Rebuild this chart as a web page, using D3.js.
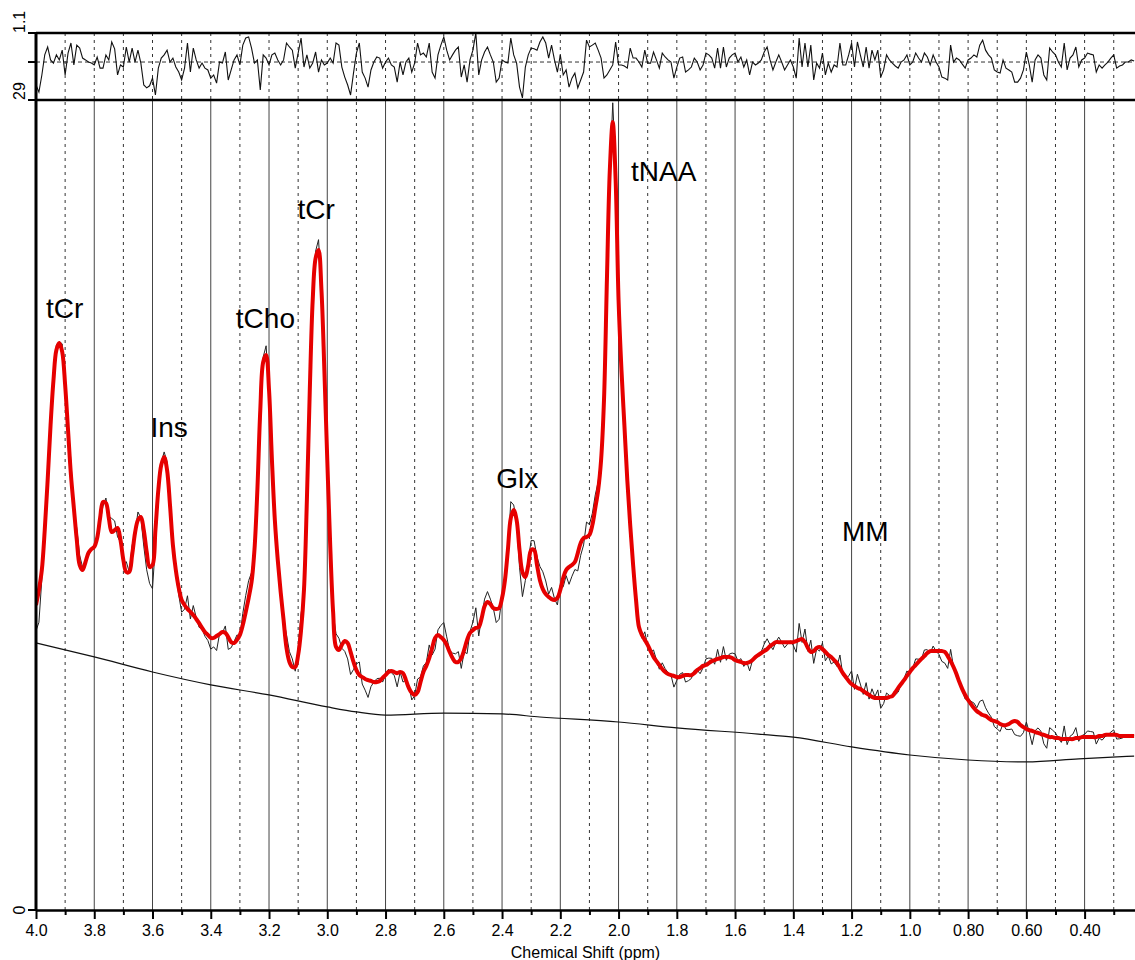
<!DOCTYPE html>
<html>
<head>
<meta charset="utf-8">
<script src="https://cdn.jsdelivr.net/npm/d3@7"></script>
<style>
  body { margin: 0; background: #fff; }
  svg { display: block; }
  text { font-family: "Liberation Sans", Arial, Helvetica, sans-serif; fill: #000; }
</style>
</head>
<body>
<svg id="chart" width="1135" height="960"></svg>
<script>
// spectrum sampled every 0.01 ppm from 4.00 down to 0.23
const ppm = d3.range(400, 22, -1).map(v => v / 100);

// fitted spectrum (red)
const fit = [
  10.92, 11.46, 12.17, 13.60, 15.39, 17.36, 18.97, 20.05, 20.30, 19.98,
  18.80, 17.18, 15.57, 14.39, 13.25, 12.35, 12.17, 12.46, 12.78, 12.92,
  13.00, 13.32, 14.03, 14.61, 14.57, 14.03, 13.53, 13.60, 13.68, 13.25,
  12.53, 12.10, 12.10, 12.71, 13.50, 13.96, 14.07, 13.60, 12.82, 12.28,
  12.35, 13.60, 15.04, 15.93, 16.22, 15.75, 14.50, 13.07, 12.17, 11.53,
  11.10, 10.92, 10.78, 10.67, 10.56, 10.42, 10.27, 10.10, 9.95, 9.85,
  9.74, 9.74, 9.81, 9.88, 9.95, 9.92, 9.77, 9.59, 9.56, 9.67,
  9.85, 10.20, 10.67, 11.17, 11.74, 12.89, 15.04, 17.90, 19.62, 19.87,
  18.62, 16.11, 13.96, 12.53, 11.38, 10.38, 9.38, 8.88, 8.70, 8.70,
  9.13, 10.02, 11.46, 14.68, 18.62, 21.84, 23.34, 23.63, 22.20, 19.33,
  16.11, 13.07, 10.67, 9.42, 9.31, 9.49, 9.63, 9.56, 9.24, 8.88,
  8.59, 8.41, 8.34, 8.27, 8.23, 8.20, 8.16, 8.16, 8.20, 8.31,
  8.41, 8.52, 8.56, 8.52, 8.48, 8.52, 8.48, 8.23, 7.95, 7.77,
  7.70, 7.80, 8.16, 8.52, 8.74, 9.02, 9.38, 9.74, 9.85, 9.77,
  9.67, 9.49, 9.24, 9.02, 8.88, 8.88, 9.02, 9.31, 9.67, 9.92,
  10.02, 10.10, 10.13, 10.45, 10.88, 11.03, 10.95, 10.81, 10.78, 10.81,
  11.17, 11.81, 12.89, 14.03, 14.32, 13.96, 12.89, 12.10, 11.92, 12.35,
  12.89, 12.89, 12.35, 11.81, 11.49, 11.31, 11.21, 11.13, 11.10, 11.17,
  11.46, 11.89, 12.17, 12.28, 12.35, 12.46, 12.78, 13.14, 13.32, 13.35,
  13.43, 13.78, 14.39, 15.04, 16.11, 18.26, 22.55, 26.49, 28.21, 26.13,
  21.84, 19.33, 17.36, 15.39, 13.78, 12.35, 11.10, 10.13, 9.85, 9.67,
  9.49, 9.27, 9.06, 8.91, 8.77, 8.63, 8.52, 8.45, 8.41, 8.38,
  8.34, 8.34, 8.38, 8.41, 8.41, 8.41, 8.48, 8.59, 8.66, 8.74,
  8.77, 8.84, 8.91, 8.95, 8.99, 9.02, 9.06, 9.06, 9.06, 9.02,
  8.95, 8.91, 8.88, 8.84, 8.84, 8.88, 8.95, 9.06, 9.13, 9.20,
  9.27, 9.34, 9.45, 9.52, 9.59, 9.59, 9.59, 9.59, 9.59, 9.59,
  9.59, 9.63, 9.67, 9.70, 9.59, 9.38, 9.24, 9.27, 9.38, 9.42,
  9.34, 9.24, 9.13, 9.06, 8.95, 8.84, 8.66, 8.48, 8.34, 8.20,
  8.09, 8.02, 7.95, 7.91, 7.84, 7.77, 7.70, 7.63, 7.59, 7.59,
  7.59, 7.59, 7.59, 7.63, 7.66, 7.80, 7.95, 8.09, 8.23, 8.38,
  8.52, 8.66, 8.77, 8.88, 8.99, 9.09, 9.20, 9.27, 9.27, 9.27,
  9.27, 9.27, 9.24, 9.09, 8.91, 8.70, 8.45, 8.16, 7.91, 7.70,
  7.52, 7.37, 7.23, 7.12, 7.05, 6.98, 6.95, 6.87, 6.80, 6.77,
  6.73, 6.66, 6.62, 6.62, 6.66, 6.73, 6.77, 6.73, 6.62, 6.55,
  6.48, 6.44, 6.41, 6.37, 6.34, 6.30, 6.27, 6.23, 6.19, 6.19,
  6.16, 6.16, 6.12, 6.12, 6.12, 6.12, 6.12, 6.16, 6.16, 6.19,
  6.19, 6.19, 6.19, 6.19, 6.19, 6.23, 6.23, 6.27, 6.27, 6.27,
  6.27, 6.27, 6.23, 6.23, 6.23, 6.23, 6.23, 6.23
];

// measured spectrum (thin black)
const data = [
  10.00, 10.30, 11.84, 13.78, 15.76, 17.41, 18.94, 20.23, 20.35, 20.27,
  18.48, 17.40, 16.04, 14.32, 13.67, 12.69, 12.27, 12.51, 12.78, 12.89,
  12.93, 13.44, 13.88, 14.46, 14.75, 14.08, 14.02, 13.93, 13.36, 13.18,
  12.41, 12.47, 12.10, 13.05, 13.50, 14.25, 14.04, 13.03, 12.18, 11.69,
  11.50, 13.10, 14.89, 16.03, 16.40, 16.04, 14.50, 13.17, 12.05, 11.28,
  10.66, 10.77, 11.25, 10.42, 10.90, 10.47, 10.12, 10.07, 9.80, 9.65,
  9.34, 9.42, 9.29, 9.88, 9.92, 10.17, 9.33, 9.39, 9.61, 9.85,
  9.78, 10.62, 11.26, 11.79, 12.08, 12.86, 15.09, 17.21, 19.80, 20.20,
  18.55, 16.29, 14.18, 12.58, 11.31, 10.43, 9.85, 9.25, 8.99, 8.55,
  9.35, 10.61, 11.34, 14.86, 18.47, 21.81, 23.59, 24.00, 22.25, 19.26,
  16.08, 13.17, 10.64, 9.89, 9.73, 9.37, 9.26, 8.99, 8.43, 8.61,
  8.81, 8.88, 8.09, 7.87, 7.61, 8.00, 8.16, 8.28, 8.30, 8.16,
  8.41, 8.62, 8.49, 8.40, 7.99, 8.52, 8.16, 8.23, 8.05, 7.52,
  7.67, 8.27, 8.34, 8.74, 8.86, 9.49, 9.13, 9.34, 10.03, 10.19,
  10.29, 9.78, 9.29, 9.20, 9.17, 9.25, 8.65, 9.24, 9.18, 9.97,
  10.31, 10.82, 9.81, 10.50, 11.13, 11.40, 11.13, 10.81, 10.29, 10.41,
  11.22, 11.81, 12.86, 14.62, 14.50, 13.93, 12.27, 11.22, 11.80, 12.53,
  13.23, 13.22, 12.64, 12.30, 12.11, 11.78, 11.31, 11.55, 11.15, 10.92,
  11.64, 11.57, 11.97, 11.66, 11.95, 12.19, 12.14, 12.70, 13.07, 13.89,
  13.80, 14.20, 14.86, 15.33, 16.21, 17.86, 22.23, 26.29, 28.90, 26.62,
  21.77, 19.26, 17.26, 15.24, 14.12, 12.45, 11.20, 10.13, 9.73, 9.96,
  9.46, 9.24, 9.31, 8.96, 8.62, 8.85, 8.64, 8.50, 8.41, 7.98,
  8.22, 8.44, 8.50, 8.16, 8.21, 8.29, 8.58, 8.59, 8.46, 8.67,
  8.99, 9.02, 9.01, 8.80, 9.33, 8.87, 9.43, 8.94, 9.16, 9.20,
  9.17, 8.91, 9.00, 8.72, 8.89, 8.56, 8.95, 8.99, 9.10, 9.25,
  9.52, 9.71, 9.50, 9.32, 9.59, 9.77, 9.59, 9.39, 9.52, 9.64,
  9.47, 9.23, 10.26, 9.58, 10.06, 9.26, 9.66, 8.83, 9.35, 9.27,
  9.56, 8.92, 9.10, 8.81, 8.88, 8.72, 9.13, 8.41, 8.27, 8.38,
  8.56, 7.90, 8.44, 8.09, 7.72, 8.14, 7.55, 7.92, 7.64, 7.88,
  7.22, 7.39, 7.77, 7.68, 7.63, 7.70, 7.80, 8.09, 8.28, 8.56,
  8.45, 8.66, 8.99, 8.98, 8.99, 9.31, 9.32, 9.20, 9.45, 9.27,
  9.15, 8.90, 8.84, 8.65, 9.33, 8.70, 8.55, 8.21, 7.86, 7.55,
  7.57, 7.47, 7.41, 7.24, 7.47, 7.52, 7.24, 7.05, 6.90, 6.57,
  6.48, 6.39, 6.67, 6.47, 6.46, 6.48, 6.28, 6.24, 6.22, 6.35,
  6.73, 6.37, 5.92, 6.42, 6.52, 6.40, 5.95, 5.79, 6.53, 6.44,
  6.34, 6.16, 6.00, 6.59, 5.92, 6.22, 6.30, 6.53, 6.04, 6.24,
  6.29, 6.41, 6.39, 6.37, 5.94, 6.16, 6.08, 6.20, 6.27, 6.37,
  6.45, 6.12, 6.13, 6.16, 6.23, 6.23, 6.28, 6.26
];

// residual shown in the top strip
const residual = [
  -0.87, -1.14, -0.50, 0.27, 0.57, 0.08, -0.04, 0.27, 0.08, 0.45,
  -0.49, 0.34, 0.72, -0.11, 0.64, 0.53, 0.15, 0.08, 0, -0.04,
  -0.11, 0.19, -0.23, -0.23, 0.27, 0.08, 0.76, 0.50, -0.49, -0.11,
  -0.19, 0.57, 0, 0.53, 0, 0.45, -0.04, -0.87, -0.98, -0.90,
  -0.61, -1.25, -0.23, 0.15, 0.27, 0.45, 0, 0.15, -0.19, -0.38,
  -0.68, -0.23, 0.72, -0.38, 0.53, 0.08, -0.23, -0.04, -0.23, -0.30,
  -0.61, -0.49, -0.80, 0, -0.04, 0.38, -0.68, -0.30, 0.08, 0.27,
  -0.11, 0.64, 0.91, 0.95, 0.53, -0.04, 0.08, -1.06, 0.27, 0.15,
  -0.11, 0.27, 0.34, 0.08, -0.11, 0.08, 0.72, 0.57, 0.45, -0.23,
  0.34, 0.91, -0.19, 0.27, -0.23, -0.04, 0.38, -0.38, 0.08, -0.11,
  -0.04, 0.15, -0.04, 0.72, 0.64, -0.19, -0.57, -0.87, -1.25, -0.42,
  0.34, 0.72, -0.38, -0.61, -0.95, -0.30, 0, 0.19, 0.15, -0.23,
  0, 0.15, -0.11, -0.19, -0.76, 0, -0.49, 0, 0.15, -0.38,
  -0.04, 0.72, 0.27, 0.34, 0.19, 0.72, -0.38, -0.61, 0.27, 0.64,
  0.95, 0.45, 0.08, 0.27, 0.45, 0.57, -0.57, -0.11, -0.76, 0.08,
  0.45, 1.10, -0.49, 0.08, 0.38, 0.57, 0.27, 0, -0.76, -0.61,
  0.08, 0, -0.04, 0.91, 0.27, -0.04, -0.95, -1.36, -0.19, 0.27,
  0.53, 0.50, 0.45, 0.76, 0.95, 0.72, 0.15, 0.64, 0.08, -0.38,
  0.27, -0.49, -0.30, -0.95, -0.61, -0.42, -0.98, -0.68, -0.38, 0.83,
  0.57, 0.64, 0.72, 0.45, 0.15, -0.61, -0.49, -0.30, -0.11, 0.76,
  -0.11, -0.11, -0.15, -0.23, 0.53, 0.15, 0.15, 0, -0.19, 0.45,
  -0.04, -0.04, 0.38, 0.08, -0.23, 0.34, 0.19, 0.08, 0, -0.61,
  -0.19, 0.15, 0.19, -0.38, -0.30, -0.19, 0.15, 0, -0.30, -0.11,
  0.34, 0.27, 0.15, -0.23, 0.53, -0.23, 0.57, -0.19, 0.15, 0.27,
  0.34, 0, 0.19, -0.19, 0.08, -0.49, 0, -0.11, -0.04, 0.08,
  0.38, 0.57, 0.08, -0.30, 0, 0.27, 0, -0.30, -0.11, 0.08,
  -0.19, -0.61, 0.91, -0.19, 0.72, -0.19, 0.64, -0.68, -0.04, -0.23,
  0.34, -0.49, -0.04, -0.38, -0.11, -0.19, 0.72, -0.11, -0.11, 0.27,
  0.72, -0.19, 0.76, 0.27, -0.19, 0.57, -0.23, 0.45, 0.08, 0.45,
  -0.57, -0.30, 0.27, 0.08, -0.04, -0.15, -0.23, 0, 0.08, 0.27,
  -0.11, 0, 0.34, 0.15, 0, 0.34, 0.19, -0.11, 0.27, 0,
  -0.19, -0.57, -0.61, -0.68, 0.64, 0, 0.15, 0.08, -0.08, -0.23,
  0.08, 0.15, 0.27, 0.19, 0.64, 0.83, 0.45, 0.27, 0.15, -0.30,
  -0.38, -0.42, 0.08, -0.23, -0.30, -0.38, -0.76, -0.76, -0.61, -0.30,
  0.38, -0.11, -0.76, 0.08, 0.27, 0.15, -0.49, -0.68, 0.53, 0.38,
  0.27, 0, -0.19, 0.72, -0.30, 0.15, 0.27, 0.57, -0.19, 0.08,
  0.15, 0.34, 0.30, 0.27, -0.38, -0.11, -0.23, -0.11, 0, 0.15,
  0.27, -0.23, -0.15, -0.11, 0, 0, 0.08, 0.04
];

// smooth baseline
const baselinePpm = [4.0, 3.8, 3.6, 3.4, 3.2, 3.0, 2.9, 2.8, 2.6, 2.4, 2.27, 2.0, 1.8, 1.52, 1.4, 1.2, 1.0, 0.8, 0.6, 0.42, 0.23];
const baselineVal = [9.56, 9.06, 8.52, 8.06, 7.70, 7.27, 7.09, 6.98, 7.05, 7.02, 6.91, 6.73, 6.52, 6.30, 6.19, 5.84, 5.55, 5.37, 5.30, 5.41, 5.51];

const majorTicks = [4.0, 3.8, 3.6, 3.4, 3.2, 3.0, 2.8, 2.6, 2.4, 2.2, 2.0, 1.8, 1.6, 1.4, 1.2, 1.0, 0.8, 0.6, 0.4];
const majorLabels = ["4.0", "3.8", "3.6", "3.4", "3.2", "3.0", "2.8", "2.6", "2.4", "2.2", "2.0", "1.8", "1.6", "1.4", "1.2", "1.0", "0.80", "0.60", "0.40"];
const minorTicks = [3.9, 3.7, 3.5, 3.3, 3.1, 2.9, 2.7, 2.5, 2.3, 2.1, 1.9, 1.7, 1.5, 1.3, 1.1, 0.9, 0.7, 0.5, 0.3];

const peakNames = ["tCr", "Ins", "tCho", "tCr", "Glx", "tNAA", "MM"];
const peakPpm = [3.966, 3.607, 3.314, 3.102, 2.420, 1.957, 1.233];
const peakHeight = [21.19, 16.93, 20.84, 24.74, 15.11, 26.10, 13.21];

const svg = d3.select("#chart");
const left = 36, right = 1135;

const x = d3.scaleLinear().domain([4.0, 0.227]).range([left, right]);
const y = d3.scaleLinear().domain([0, 29]).range([910, 100]);
const yRes = d3.scaleLinear().domain([-1.42, 1.1]).range([99.5, 33]);

svg.append("clipPath").attr("id", "mainClip")
  .append("rect").attr("x", left).attr("y", y(29)).attr("width", right - left).attr("height", y(0) - y(29));
svg.append("clipPath").attr("id", "resClip")
  .append("rect").attr("x", left).attr("y", yRes(1.1)).attr("width", right - left).attr("height", yRes(-1.42) - yRes(1.1));

// grid: main panel
const grid = svg.append("g");
grid.selectAll(".major").data(majorTicks).join("line")
  .attr("x1", d => x(d)).attr("x2", d => x(d))
  .attr("y1", y(0)).attr("y2", y(29))
  .attr("stroke", "#444").attr("stroke-width", 1);
grid.selectAll(".minor").data(minorTicks).join("line")
  .attr("x1", d => x(d)).attr("x2", d => x(d))
  .attr("y1", y(0)).attr("y2", y(29))
  .attr("stroke", "#333").attr("stroke-width", 1).attr("stroke-dasharray", "3,4");
// grid: residual strip (all dashed)
grid.selectAll(".res").data(majorTicks.concat(minorTicks)).join("line")
  .attr("x1", d => x(d)).attr("x2", d => x(d))
  .attr("y1", yRes(1.1)).attr("y2", yRes(-1.42))
  .attr("stroke", "#333").attr("stroke-width", 1).attr("stroke-dasharray", "3,4");
grid.append("line")
  .attr("x1", left).attr("x2", right).attr("y1", yRes(0)).attr("y2", yRes(0))
  .attr("stroke", "#333").attr("stroke-width", 1).attr("stroke-dasharray", "4,3");

// spectra
const lineMain = d3.line().x((d, i) => x(ppm[i])).y(d => y(d));
const main = svg.append("g").attr("clip-path", "url(#mainClip)");

main.append("path")
  .datum(baselineVal)
  .attr("d", d3.line().x((d, i) => x(baselinePpm[i])).y(d => y(d)).curve(d3.curveMonotoneX))
  .attr("fill", "none").attr("stroke", "#111").attr("stroke-width", 1.2);

main.append("path")
  .datum(data)
  .attr("d", lineMain)
  .attr("fill", "none").attr("stroke", "#222").attr("stroke-width", 1);

main.append("path")
  .datum(fit)
  .attr("d", lineMain.curve(d3.curveCatmullRom.alpha(0.5)))
  .attr("fill", "none").attr("stroke", "#e60000").attr("stroke-width", 4)
  .attr("stroke-linejoin", "round");

svg.append("g").attr("clip-path", "url(#resClip)")
  .append("path")
  .datum(residual)
  .attr("d", d3.line().x((d, i) => x(ppm[i])).y(d => yRes(d)))
  .attr("fill", "none").attr("stroke", "#111").attr("stroke-width", 1.1);

// frame lines
const frame = svg.append("g").attr("stroke", "#000");
frame.append("line").attr("x1", left).attr("x2", right).attr("y1", yRes(1.1)).attr("y2", yRes(1.1)).attr("stroke-width", 2.5);
frame.append("line").attr("x1", left).attr("x2", right).attr("y1", y(29)).attr("y2", y(29)).attr("stroke-width", 2.5);
frame.append("line").attr("x1", left).attr("x2", left).attr("y1", yRes(1.1) - 1).attr("y2", y(0) + 1).attr("stroke-width", 3);
[yRes(1.1), yRes(0), y(29), y(0)].forEach(v => {
  frame.append("line").attr("x1", left - 8).attr("x2", left).attr("y1", v).attr("y2", v).attr("stroke-width", 2);
});

// bottom axis
const axisMajor = d3.axisBottom(x).tickValues(majorTicks)
  .tickFormat((d, i) => majorLabels[i]).tickSize(9).tickPadding(6).tickSizeOuter(0);
const gx = svg.append("g").attr("transform", `translate(0,${y(0)})`).call(axisMajor);
gx.select(".domain").attr("stroke", "#000").attr("stroke-width", 2.5);
gx.selectAll(".tick line").attr("stroke", "#000").attr("stroke-width", 2);
gx.selectAll(".tick text").attr("font-size", 16).attr("font-family", null);

const gxm = svg.append("g").attr("transform", `translate(0,${y(0)})`)
  .call(d3.axisBottom(x).tickValues(minorTicks).tickFormat("").tickSize(5).tickSizeOuter(0));
gxm.select(".domain").remove();
gxm.selectAll(".tick line").attr("stroke", "#000").attr("stroke-width", 2);

svg.append("text")
  .attr("x", (left + right) / 2).attr("y", 958)
  .attr("text-anchor", "middle").attr("font-size", 16)
  .text("Chemical Shift (ppm)");

// rotated y labels
const yLabels = [
  { t: "1.1", v: yRes(1.1), a: "start" },
  { t: "29", v: y(29), a: "start" },
  { t: "0", v: y(0), a: "middle" }
];
yLabels.forEach(l => {
  svg.append("text")
    .attr("transform", `translate(25,${l.v}) rotate(-90)`)
    .attr("text-anchor", l.a).attr("font-size", 16)
    .text(l.t);
});

// peak annotations
svg.append("g").selectAll("text").data(peakNames).join("text")
  .attr("x", (d, i) => x(peakPpm[i]))
  .attr("y", (d, i) => y(peakHeight[i]))
  .attr("font-size", 28)
  .text(d => d);
</script>
</body>
</html>
